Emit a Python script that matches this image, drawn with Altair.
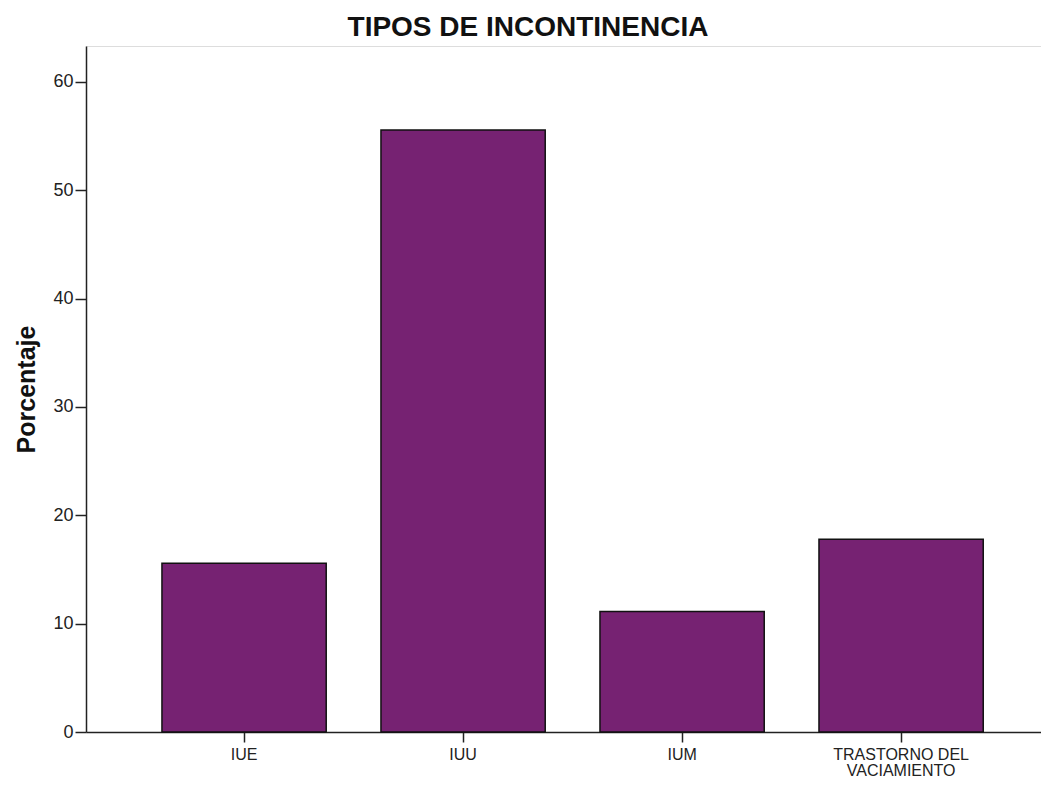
import altair as alt
import pandas as pd

categories = ["IUE", "IUU", "IUM", "TRASTORNO DEL|VACIAMIENTO"]
porcentaje = [15.56, 55.56, 11.11, 17.78]
y_ticks = [0, 10, 20, 30, 40, 50, 60]

df = pd.DataFrame({"tipo": categories, "pct": porcentaje})

FONT = "Arial, Liberation Sans, sans-serif"

chart = alt.Chart(df).mark_bar(
    fill="#762272", stroke="#111111", strokeWidth=1.5
).encode(
    x=alt.X("tipo:N", sort=categories,
            scale=alt.Scale(paddingInner=0.25, paddingOuter=0.3053, align=0.568),
            axis=alt.Axis(title=None, labelAngle=0, labelFont=FONT, labelFontSize=16,
                          labelColor="#222222", labelExpr="split(datum.label, '|')",
                          labelLineHeight=16, labelPadding=4, tickSize=10,
                          tickColor="#222222", tickWidth=1.5, domainColor="#222222",
                          domainWidth=1.5, grid=False)),
    y=alt.Y("pct:Q", scale=alt.Scale(domain=[0, 63.3], nice=False, zero=True),
            axis=alt.Axis(title="Porcentaje", values=y_ticks, titleFont=FONT,
                          titleFontSize=25, titleFontWeight="bold", titleColor="#111111",
                          titlePadding=13, labelFont=FONT, labelFontSize=18,
                          labelColor="#222222", labelPadding=2, tickSize=11,
                          tickColor="#222222", tickWidth=1.5, domainColor="#222222",
                          domainWidth=1.5, grid=False)),
).properties(
    width=955, height=686,
    title=alt.TitleParams("TIPOS DE INCONTINENCIA", font=FONT, fontSize=28,
                          fontWeight="bold", color="#111111", anchor="middle",
                          frame="bounds", offset=4),
    autosize=alt.AutoSizeParams(type="none"),
    padding={"left": 78, "top": 38, "right": 0, "bottom": 47},
).configure_view(
    fill="#EFEFEF", stroke="#8a8a8a", strokeWidth=2
).configure(background="white")

chart.save("out.html", embed_options={"renderer": "svg", "actions": False})
